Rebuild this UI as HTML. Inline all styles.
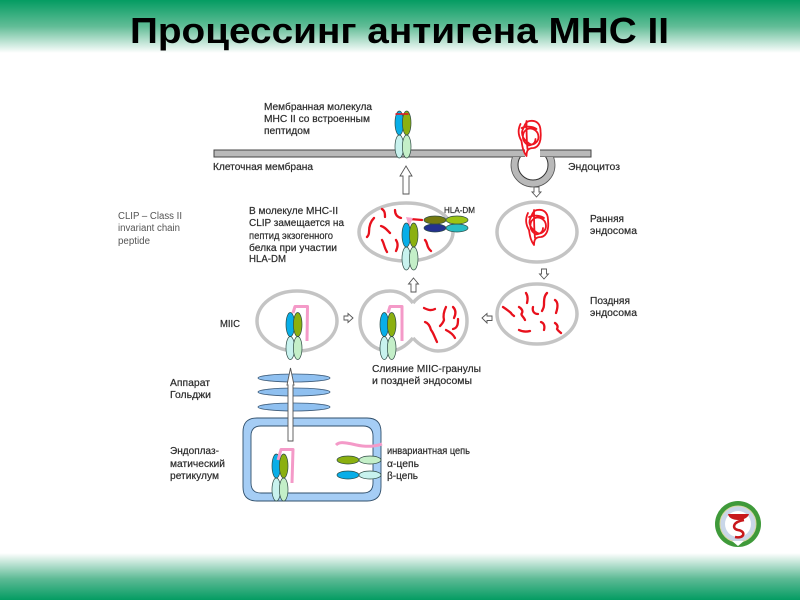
<!DOCTYPE html>
<html><head><meta charset="utf-8"><style>
html,body{margin:0;padding:0;background:#fff}
svg{display:block}
text{font-family:"Liberation Sans",sans-serif}
.l{font-size:10px;fill:#2c2c2c;stroke:#2c2c2c;stroke-width:.2}
.r{fill:none;stroke:#e8101c;stroke-width:2.3;stroke-linecap:round;stroke-linejoin:round}
.c{fill:none;stroke:#ee1520;stroke-width:1.8;stroke-linecap:round;stroke-linejoin:round}
.e{fill:none;stroke:#c4c4c4;stroke-width:3.5}
.p{fill:none;stroke:#f49ac8;stroke-width:3;stroke-linejoin:round}
.m{stroke:#2d4a44;stroke-width:.7}
.a{fill:#fff;stroke:#555;stroke-width:.9}
.g{fill:#8fc0f0;stroke:#3c5a78;stroke-width:.8}
</style></head><body>
<svg width="800" height="600" viewBox="0 0 800 600" xmlns="http://www.w3.org/2000/svg">
<defs>
<linearGradient id="t" x1="0" y1="0" x2="0" y2="1"><stop offset="0" stop-color="#049c62"/><stop offset=".5" stop-color="#62bd97"/><stop offset="1" stop-color="#fff"/></linearGradient>
<linearGradient id="b" x1="0" y1="0" x2="0" y2="1"><stop offset="0" stop-color="#fff"/><stop offset=".55" stop-color="#5dba95"/><stop offset="1" stop-color="#049c62"/></linearGradient>
<clipPath id="ringclip"><rect x="500" y="157" width="70" height="40"/></clipPath>
<g id="mol">
<ellipse class="m" cx="-3.700" cy="11.500" rx="4.300" ry="11.500" fill="#c8f2ee"/>
<ellipse class="m" cx="3.700" cy="11.500" rx="4.300" ry="11.500" fill="#c4efc8"/>
<ellipse class="m" cx="-3.700" cy="-12" rx="4.300" ry="12" fill="#08aee8"/>
<ellipse class="m" cx="3.700" cy="-12" rx="4.300" ry="12" fill="#8bb010"/>
</g>
<g id="coil"><path class="c" d="M-9,-14C-12,-8 -11,-2 -8,3C-7,10 -6,14 -3,18C-3,12 -1,10 4,10C10,9 12,2 11,-7C11,-15 6,-18 0,-17C-5,-16 -5,-11 -7,-8C-9,-2 -5,2 -1,5C3,9 9,4 9,-1C9,-7 3,-11 -2,-9C-8,-6 -8,2 -3,6C0,9 6,6 6,1M-3,-17C-3,-8 -3,2 -2,11M-8,-10C-4,-12 3,-12 7,-9"/></g>
</defs>
<rect width="800" height="600" fill="#fff"/>
<rect x="0" y="0" width="800" height="53" fill="url(#t)"/>
<rect x="0" y="553" width="800" height="47" fill="url(#b)"/>
<text x="130" y="43" font-size="36" font-weight="bold" fill="#000" textLength="539" lengthAdjust="spacingAndGlyphs">Процессинг антигена МНС II</text>

<!-- membrane + endocytosis -->
<rect x="214" y="150" width="377" height="7" fill="#b9b9b9" stroke="#444" stroke-width="1"/>
<g clip-path="url(#ringclip)">
<circle cx="533" cy="165" r="22" fill="#b9b9b9" stroke="#555" stroke-width=".8"/>
<circle cx="533" cy="165" r="15" fill="#fff" stroke="#333" stroke-width="1"/>
</g>
<rect x="525" y="149" width="15" height="12" fill="#fff"/>
<use href="#coil" x="529.500" y="138"/>
<use href="#coil" x="537" y="227"/>

<path class="a" d="M406,166L412,176L409,176L409,194L403,194L403,176L400,176Z"/>
<path class="a" d="M534,187L539,187L539,192L541,192L536.500,197L532,192L534,192Z"/>
<path class="a" d="M541.500,269L546.500,269L546.500,274L548.500,274L544,279L539.500,274L541.500,274Z"/>
<path class="a" d="M413.500,278L418.500,284L416,284L416,292L411,292L411,284L408.500,284Z"/>
<path class="a" d="M482,318L487,313.500L487,316L492,316L492,320.500L487,320.500L487,323Z"/>
<path class="a" d="M353,318L348,313.500L348,316L344,316L344,320L348,320L348,322.500Z"/>

<ellipse class="e" cx="537" cy="232" rx="40" ry="30"/>
<ellipse class="e" cx="537" cy="314" rx="40" ry="30"/>
<ellipse class="e" cx="406" cy="232" rx="47" ry="29"/>
<ellipse class="e" cx="297" cy="321" rx="40" ry="30"/>
<path class="e" d="M413,303C420,294 430,291 438,291C456,291 467,305 467,321C467,337 456,351 438,351C430,351 420,346 413,338"/>
<path class="e" d="M413,303C406,294 398,291 390,291C372,291 360,305 360,321C360,337 372,351 390,351C398,351 406,346 413,338"/>

<!-- squiggles late endosome -->
<path class="r" d="M503,307C506,309 509,311 511,313C512,315 513,315 514,316M526,293C528,296 528,299 527,303M519,307C522,309 523,311 522,313C520,315 524,317 525,320M533,307C532,311 534,314 538,314M547,293C544,296 544,300 544,305C544,308 543,309 542,311M555,300C558,302 558,307 556,313M519,330C523,332 526,332 530,331M541,322C544,323 545,326 544,330M555,323C558,325 558,327 557,329C558,331 560,332 561,333"/>
<!-- merged -->
<path class="r" d="M424,308C428,310 431,311 435,309M446,307C444,311 443,316 444,320C443,323 441,325 440,326M453,307C456,310 456,314 454,318M458,319C458,323 458,328 453,329M425,322C428,323 430,326 431,330C433,332 435,338 437,342M446,330C450,332 453,334 455,338"/>
<!-- upper -->
<path class="r" d="M374,218C370,222 369,228 369,232C369,234 368,236 367,237M382,209C385,211 385,214 385,217M395,210C395,214 397,217 401,218M381,226C385,227 387,230 390,233M382,240C384,243 384,247 387,252M396,240C398,243 398,247 396,251M425,240C428,243 426,247 431,251"/>
<path class="r" d="M410,219L422,220"/>
<path d="M406,217L413,218L409,227Z" fill="#f7a6cc"/>

<!-- HLA-DM -->
<ellipse class="m" cx="435" cy="228" rx="11" ry="4" fill="#23308f"/>
<ellipse class="m" cx="457" cy="228" rx="11" ry="4" fill="#28bdc4"/>
<ellipse class="m" cx="435" cy="220" rx="11" ry="4" fill="#757a10"/>
<ellipse class="m" cx="457" cy="220" rx="11" ry="4" fill="#9cc414"/>

<use href="#mol" x="403" y="135"/>
<path class="r" style="stroke-width:1.5" d="M396,114L408,114"/>
<use href="#mol" x="410" y="247"/>
<use href="#mol" x="294" y="336.500"/>
<path class="p" d="M293,313L295,306.500L307.500,306.500L307,341"/>
<use href="#mol" x="388" y="336.500"/>
<path class="p" d="M388,313L390,306.500L402,306.500L402,341"/>

<!-- Golgi -->
<ellipse class="g" cx="294" cy="378" rx="36" ry="4"/>
<ellipse class="g" cx="294" cy="392" rx="36" ry="4"/>
<ellipse class="g" cx="294" cy="407" rx="36" ry="4"/>
<!-- ER -->
<path fill-rule="evenodd" d="M257,418H367Q381,418 381,432V487Q381,501 367,501H257Q243,501 243,487V432Q243,418 257,418ZM261,426Q251,426 251,436V483Q251,493 261,493H363Q373,493 373,483V436Q373,426 363,426Z" fill="#a5cdf5" stroke="#31506c" stroke-width=".9"/>
<path d="M290.500,368L294,385L293,385L293,441L288,441L288,385L287,385Z" fill="#fff" stroke="#555" stroke-width=".9"/>
<use href="#mol" x="280" y="478"/>
<path class="p" d="M278,460L281,449.500L293,449.500L292,483"/>
<path class="p" d="M336,445C340,441 346,443 352,444C360,446 370,448 382,444"/>
<ellipse class="m" cx="348" cy="460" rx="11" ry="4" fill="#8bb010"/>
<ellipse class="m" cx="370" cy="460" rx="11" ry="4" fill="#c4efc8"/>
<ellipse class="m" cx="348" cy="475" rx="11" ry="4" fill="#08aee8"/>
<ellipse class="m" cx="370" cy="475" rx="11" ry="4" fill="#c8f2ee"/>

<g lengthAdjust="spacingAndGlyphs">
<text class="l" x="264" y="110" textLength="108" lengthAdjust="spacingAndGlyphs">Мембранная молекула</text>
<text class="l" x="264" y="122" textLength="106" lengthAdjust="spacingAndGlyphs">МНС II со встроенным</text>
<text class="l" x="264" y="134" textLength="46" lengthAdjust="spacingAndGlyphs">пептидом</text>
<text class="l" x="213" y="170" textLength="100" lengthAdjust="spacingAndGlyphs">Клеточная мембрана</text>
<text class="l" x="568" y="170" textLength="52" lengthAdjust="spacingAndGlyphs">Эндоцитоз</text>
<text class="l" x="249" y="214" textLength="89" lengthAdjust="spacingAndGlyphs">В молекуле МНС-II</text>
<text class="l" x="249" y="226" textLength="95" lengthAdjust="spacingAndGlyphs">CLIP замещается на</text>
<text class="l" x="249" y="239" textLength="84" lengthAdjust="spacingAndGlyphs">пептид экзогенного</text>
<text class="l" x="249" y="251" textLength="88" lengthAdjust="spacingAndGlyphs">белка при участии</text>
<text class="l" x="249" y="262" textLength="37" lengthAdjust="spacingAndGlyphs">HLA-DM</text>
<text class="l" x="444" y="213" style="font-size:8.500px" textLength="31" lengthAdjust="spacingAndGlyphs">HLA-DM</text>
<text class="l" x="590" y="222" textLength="34" lengthAdjust="spacingAndGlyphs">Ранняя</text>
<text class="l" x="590" y="234" textLength="47" lengthAdjust="spacingAndGlyphs">эндосома</text>
<text class="l" x="590" y="304" textLength="40" lengthAdjust="spacingAndGlyphs">Поздняя</text>
<text class="l" x="590" y="316" textLength="47" lengthAdjust="spacingAndGlyphs">эндосома</text>
<text class="l" x="220" y="327" textLength="20" lengthAdjust="spacingAndGlyphs">MIIC</text>
<text class="l" x="372" y="372" textLength="109" lengthAdjust="spacingAndGlyphs">Слияние MIIC-гранулы</text>
<text class="l" x="372" y="384" textLength="100" lengthAdjust="spacingAndGlyphs">и поздней эндосомы</text>
<text class="l" x="170" y="386" textLength="40" lengthAdjust="spacingAndGlyphs">Аппарат</text>
<text class="l" x="170" y="398" textLength="41" lengthAdjust="spacingAndGlyphs">Гольджи</text>
<text class="l" x="170" y="454" textLength="49" lengthAdjust="spacingAndGlyphs">Эндоплаз-</text>
<text class="l" x="170" y="467" textLength="55" lengthAdjust="spacingAndGlyphs">матический</text>
<text class="l" x="170" y="479" textLength="49" lengthAdjust="spacingAndGlyphs">ретикулум</text>
<text class="l" x="387" y="454" textLength="83" lengthAdjust="spacingAndGlyphs">инвариантная цепь</text>
<text class="l" x="387" y="467" textLength="32" lengthAdjust="spacingAndGlyphs">α-цепь</text>
<text class="l" x="387" y="479" textLength="31" lengthAdjust="spacingAndGlyphs">β-цепь</text>
</g>
<text x="118" y="219" font-size="10" fill="#555" textLength="64" lengthAdjust="spacingAndGlyphs">CLIP – Class II</text>
<text x="118" y="231" font-size="10" fill="#555" textLength="62" lengthAdjust="spacingAndGlyphs">invariant chain</text>
<text x="118" y="244" font-size="10" fill="#555" textLength="32" lengthAdjust="spacingAndGlyphs">peptide</text>

<!-- logo -->
<circle cx="738" cy="524" r="23" fill="#3f9a3a"/>
<circle cx="738" cy="524" r="18" fill="#c9d6e8" stroke="#d8d8a0" stroke-width="1"/>
<circle cx="738" cy="524" r="13" fill="#fff"/>
<path d="M728,514C729,522 747,522 749,514Z" fill="#c8181c"/>
<path d="M744,520C732,522 732,529 738,530C746,531 745,539 735,537" fill="none" stroke="#c8181c" stroke-width="2.500"/>
<path d="M732,541L744,541L738,546Z" fill="#fff"/>
</svg>
</body></html>
